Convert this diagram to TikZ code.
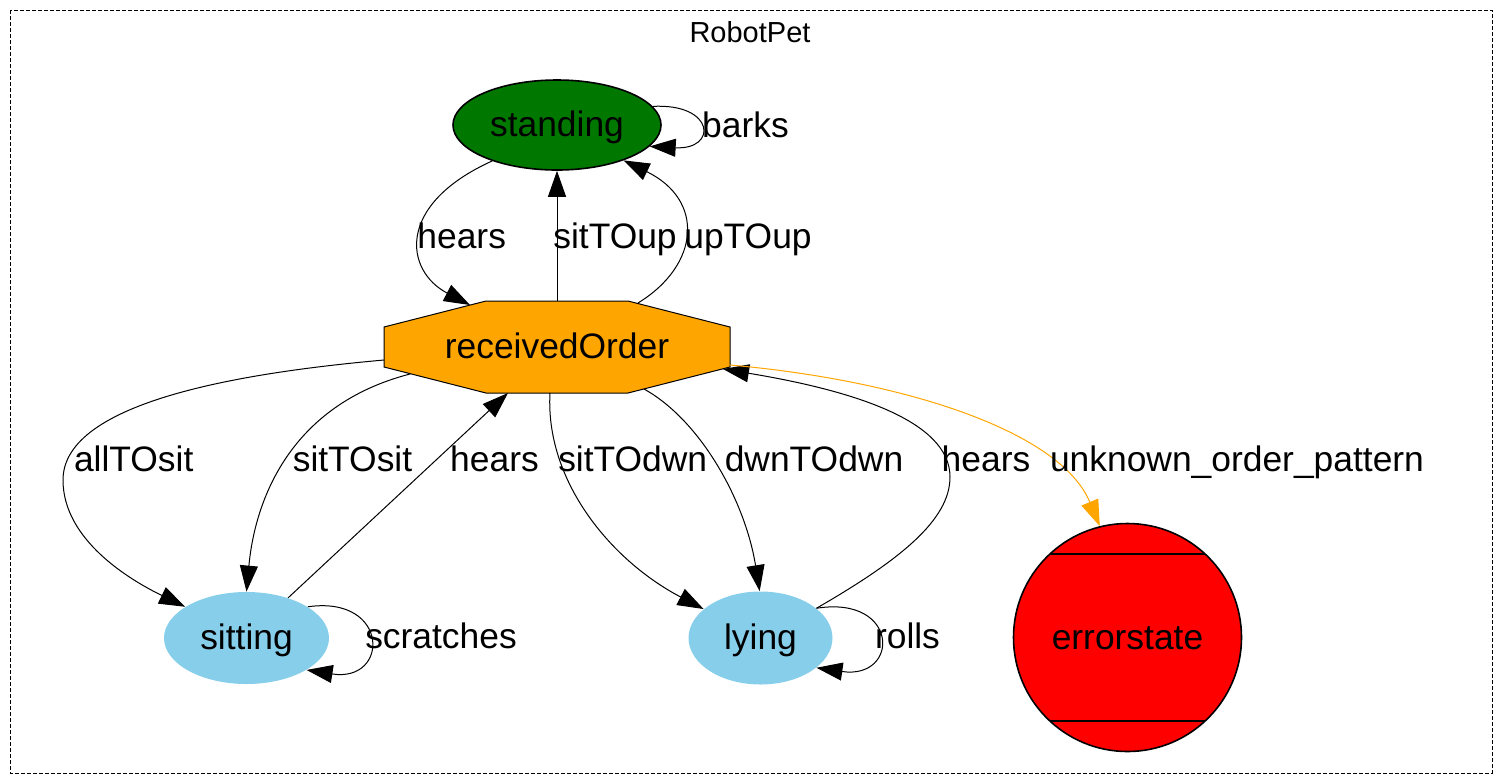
\documentclass[tikz,border=0pt]{standalone}
\usepackage{fontspec}
\setmainfont{Liberation Sans}
\usetikzlibrary{shapes.geometric,arrows.meta,calc}
\definecolor{stgreen}{RGB}{0,120,0}
\definecolor{roorange}{RGB}{255,165,0}
\definecolor{sky}{RGB}{135,206,235}
\definecolor{errred}{RGB}{255,0,0}
\begin{document}
\begin{tikzpicture}[x=0.5pt,y=-0.5pt,
  lbl/.style={font=\fontsize{17.7pt}{20pt}\selectfont, anchor=base, inner sep=0pt},
  edge/.style={line width=0.5pt, -{Triangle[length=13pt,width=9pt]}},
  state/.style={font=\fontsize{17.7pt}{20pt}\selectfont, text height=11.5pt, text depth=0pt, inner sep=0pt},
]
\useasboundingbox (0,0) rectangle (1504,783);
\draw[dash pattern=on 2pt off 1pt, line width=0.5pt] (10,10) rectangle (1492,773);
\node[font=\fontsize{14.5pt}{16pt}\selectfont, anchor=base, inner sep=0pt] (title) at (750,42) {RobotPet};

% octagon of receivedOrder
\filldraw[fill=roorange, draw=black, line width=0.5pt] (486,301) -- (628,301) -- (730,327) -- (730,367) -- (628,393) -- (486,393) -- (384,367) -- (384,327) -- cycle;

\node[state, ellipse, fill=stgreen, draw, line width=0.8pt, minimum width=104pt, minimum height=45pt] (standing) at (557,125) {standing};
\node[state, rectangle, minimum width=173pt, minimum height=46pt] (ro) at (557,347) {receivedOrder};
\node[state, ellipse, fill=sky, minimum width=82.5pt, minimum height=46pt] (sitting) at (246.5,638) {sitting};
\node[state, ellipse, fill=sky, minimum width=72pt, minimum height=46.5pt] (lying) at (760.5,638) {lying};
\node[state, circle, fill=errred, draw, line width=0.8pt, minimum size=114pt] (err) at (1127.5,637.5) {errorstate};
\draw[line width=0.8pt] ($(err)+(-77.6,-83.5)$) -- ($(err)+(77.6,-83.5)$);
\draw[line width=0.8pt] ($(err)+(-77.6,83.5)$) -- ($(err)+(77.6,83.5)$);

% edges
\draw[edge] (standing.11) .. controls (715,103) and (718,150) .. (standing.347);
\node[lbl] (lbarks) at (745.5,137) {barks};

\draw[edge] (standing.209) .. controls (395,205) and (405,271) .. ($(ro)+(-87,-42)$);
\node[lbl] (lhears1) at (461.7,248.7) {hears};

\draw[edge] (ro.north) -- (standing.south);
\node[lbl] (lsitup) at (615,248.7) {sitTOup};

\draw[edge] ($(ro)+(81,-44)$) .. controls (700,265) and (705,200) .. (standing.332);
\node[lbl] (lupup) at (748,248.7) {upTOup};

\draw[edge] ($(ro)+(-173,13)$) .. controls (250,372) and (63,400) .. (63,480) .. controls (63,540) and (130,580) .. (sitting.153);
\node[lbl] (lallsit) at (133.7,471) {allTOsit};

\draw[edge] ($(ro)+(-147,27)$) .. controls (290,405) and (255,500) .. (sitting.north);
\node[lbl] (lsitsit) at (352.5,471) {sitTOsit};

\draw[edge] (sitting.44) -- ($(ro)+(-49,46)$);
\node[lbl] (lhears2) at (494.5,471) {hears};

\draw[edge] ($(ro)+(-7,46)$) .. controls (545,480) and (610,560) .. (lying.153);
\node[lbl] (lsitdwn) at (632.7,471) {sitTOdwn};

\draw[edge] ($(ro)+(87,42)$) .. controls (700,420) and (745,500) .. (lying.91);
\node[lbl] (ldwndwn) at (814,471) {dwnTOdwn};

\draw[edge] (lying.28) .. controls (900,560) and (950,520) .. (950,477) .. controls (950,420) and (850,390) .. ($(ro)+(166,22)$);
\node[lbl] (lhears3) at (986,471) {hears};

\draw[edge, roorange] ($(ro)+(173,18)$) .. controls (900,380) and (1060,430) .. (err.104);
\node[lbl] (lunknown) at (1237,471) {unknown\_order\_pattern};

\draw[edge] (lying.28) .. controls (900,595) and (900,680) .. (lying.332);
\node[lbl] (lrolls) at (907.5,648.7) {rolls};

\draw[edge] (sitting.27) .. controls (390,595) and (390,683) .. (sitting.332);
\node[lbl] (lscratch) at (441,648.7) {scratches};
\end{tikzpicture}
\end{document}
